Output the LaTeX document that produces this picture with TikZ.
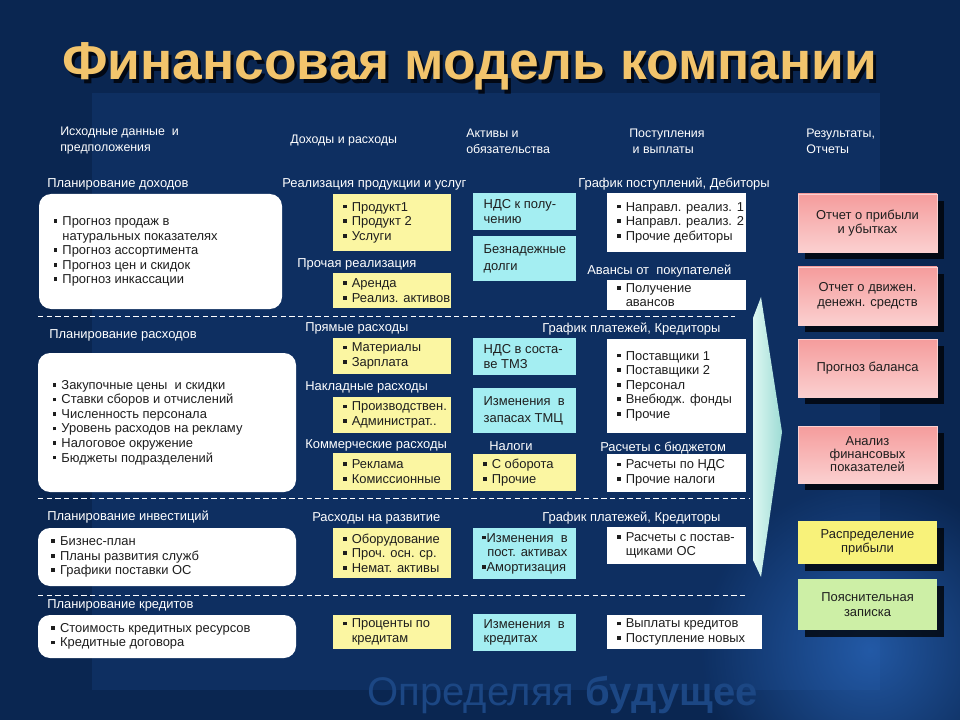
\documentclass[tikz,border=0pt]{standalone}
\usepackage{fontspec}
\setmainfont{Liberation Sans}
\usetikzlibrary{shadows,fadings}
\definecolor{bgdark}{HTML}{0A2651}
\definecolor{bgpanel}{HTML}{0E2F61}
\definecolor{glow}{HTML}{2C6CC4}
\definecolor{yel}{HTML}{FBF6A2}
\definecolor{cya}{HTML}{A4EEF2}
\definecolor{pinktop}{HTML}{F59C9C}
\definecolor{pinkbot}{HTML}{FBD0D0}
\definecolor{gold}{HTML}{F2C46C}
\definecolor{titleshade}{HTML}{020814}
\definecolor{arrowl}{HTML}{DDF7F2}
\definecolor{arrowr}{HTML}{9EDCD5}
\definecolor{ink}{HTML}{1E1E1E}
\definecolor{resyel}{HTML}{F8F27A}
\definecolor{resgrn}{HTML}{CDEFA6}
\definecolor{wmark}{HTML}{1C4784}
\tikzfading[name=glowfade, inner color=transparent!0, outer color=transparent!100]
% small square bullets
\newcommand{\bu}{\rule[0.2em]{0.28em}{0.28em}\hspace{0.4em}}
\newcommand{\bun}{\rule[0.2em]{0.28em}{0.28em}\hspace{0.05em}}
\newcommand{\ind}{\phantom{\bu}}
% title with its shadow set in one box
\newcommand{\shadowed}[1]{\makebox[0pt][l]{\hspace{2.3pt}\raisebox{-2.3pt}{\color{titleshade}#1}}#1}
% box from corner (x1,y1) to (x2,y2) in px, text set from the left
\newcommand{\cell}[8][7.5]{
	\pgfmathsetmacro\cellw{(#6-#4)*0.75}\pgfmathsetmacro\cellh{(#7-#5)*0.75}
	\node[#2, minimum width=\cellw pt, minimum height=\cellh pt, inner sep=0pt] (#3) at ({(#4+#6)/2},{(#5+#7)/2}) {};
	\node[boxtext, anchor=west] (#3t) at ([xshift=#1pt]#3.west) {#8};
}
% result box, text centred
\newcommand{\rbox}[7]{
	\pgfmathsetmacro\cellw{(#5-#3)*0.75}\pgfmathsetmacro\cellh{(#6-#4)*0.75}
	\node[#1, minimum width=\cellw pt, minimum height=\cellh pt] (#2) at ({(#3+#5)/2},{(#4+#6)/2}) {#7};
}
\tikzset{
	boxtext/.style={font=\fontsize{9.7}{10.9}\selectfont, text=ink, inner sep=0pt, align=left},
	plan/.style={fill=white, rounded corners=9pt},
	yelbox/.style={fill=yel},
	cyabox/.style={fill=cya},
	whtbox/.style={fill=white},
	resbox/.style={boxtext, align=center, drop shadow={shadow xshift=5pt, shadow yshift=-5pt, fill=black, opacity=.75}},
	pinkbox/.style={resbox, top color=pinktop, bottom color=pinkbot, draw=pinkbot, line width=.4pt},
	lbl/.style={font=\fontsize{9.7}{11}\selectfont, text=white, anchor=west, inner sep=0pt, text height=1.6ex, text depth=.4ex},
	hdr/.style={font=\fontsize{9.3}{12}\selectfont, text=white, anchor=west, inner sep=0pt, align=left},
	cutline/.style={white, dash pattern=on 4pt off 2.5pt, line width=.6pt}
}
\begin{document}
\begin{tikzpicture}[x=0.75pt, y=-0.75pt]
	\useasboundingbox (0,0) rectangle (960,720);
	% background
	\fill[bgdark] (0,0) rectangle (960,720);
	\fill[bgpanel] (92,93) rectangle (880,690);
	\fill[glow, path fading=glowfade, opacity=.7] (870,650) circle (170);
	\node[anchor=base west, inner sep=0pt, text=wmark, font=\fontsize{30}{36}\selectfont] (wm) at (367,705) {Определяя \textbf{будущее}};
	% title
	\node[anchor=base west, inner sep=0pt, text=gold, font=\fontsize{40}{48}\selectfont\bfseries] (ttl) at (62,80) {\shadowed{Финансовая модель компании}};
	% column heads
	\node[hdr] (h1) at (60,141) {Исходные данные~ и\\предположения};
	\node[hdr] (h2) at (290,141) {Доходы и расходы};
	\node[hdr] (h3) at (466,141) {Активы и\\обязательства};
	\node[hdr] (h4) at (629,141) {Поступления\\\ и выплаты};
	\node[hdr] (h5) at (806,141) {Результаты,\\Отчеты};
	% separators
	\draw[cutline] (38,316) -- (735,316);
	\draw[cutline] (38,498) -- (750,498);
	\draw[cutline] (38,595) -- (745,595);
	% flow arrow
	\shade[left color=arrowl, right color=arrowr] (761,297) -- (782,432) -- (761,577) -- (753,560) -- (753,318) -- cycle;
	% planning
	\node[lbl] (l1) at (47,183) {Планирование доходов};
	\node[lbl] (l2) at (49,334) {Планирование расходов};
	\node[lbl] (l3) at (47,516) {Планирование инвестиций};
	\node[lbl] (l4) at (47,604) {Планирование кредитов};
	\cell[11]{plan}{pd}{39}{194}{282}{309}{\bu Прогноз продаж в\\\ind натуральных показателях\\\bu Прогноз ассортимента\\\bu Прогноз цен и скидок\\\bu Прогноз инкассации}
	\cell[11]{plan}{pr}{38}{353}{296}{492}{\bu Закупочные цены~ и скидки\\\bu Ставки сборов и отчислений\\\bu Численность персонала\\\bu Уровень расходов на рекламу\\\bu Налоговое окружение\\\bu Бюджеты подразделений}
	\cell[10]{plan}{pi}{38}{528}{296}{586}{\bu Бизнес-план\\\bu Планы развития служб\\\bu Графики поставки ОС}
	\cell[10]{plan}{pk}{38}{615}{296}{658}{\bu Стоимость кредитных ресурсов\\\bu Кредитные договора}
	% incomes and costs
	\node[lbl] (l5) at (282,183) {Реализация продукции и услуг};
	\node[lbl] (l6) at (297,263) {Прочая реализация};
	\node[lbl] (l7) at (305,327) {Прямые расходы};
	\node[lbl] (l8) at (305,386) {Накладные расходы};
	\node[lbl] (l9) at (305,444) {Коммерческие расходы};
	\node[lbl] (l10) at (312,517) {Расходы на развитие};
	\cell{yelbox}{y1}{333}{194}{451}{251}{\bu Продукт1\\\bu Продукт 2\\\bu Услуги}
	\cell{yelbox}{y2}{333}{273}{451}{308}{\bu Аренда\\\bu Реализ. активов}
	\cell{yelbox}{y3}{333}{338}{451}{374}{\bu Материалы\\\bu Зарплата}
	\cell{yelbox}{y4}{333}{397}{451}{433}{\bu Производствен.\\\bu Администрат..}
	\cell{yelbox}{y5}{333}{453}{451}{490}{\bu Реклама\\\bu Комиссионные}
	\cell{yelbox}{y6}{333}{528}{451}{578}{\bu Оборудование\\\bu Проч. осн. ср.\\\bu Немат. активы}
	\cell{yelbox}{y7}{333}{615}{451}{649}{\bu Проценты по\\\ind кредитам}
	% assets and liabilities
	\node[lbl] (l11) at (489,446) {Налоги};
	\cell[8]{cyabox}{c1}{473}{193}{576}{230}{НДС к полу-\\чению}
	\cell[8]{cyabox}{c2}{473}{236}{576}{281}{Безнадежные\\[2pt]долги}
	\cell[8]{cyabox}{c3}{473}{338}{576}{375}{НДС в соста-\\ве ТМЗ}
	\cell[8]{cyabox}{c4}{473}{388}{576}{433}{Изменения~ в\\[2pt]запасах ТМЦ}
	\cell{yelbox}{c5}{473}{454}{576}{491}{\bu С оборота\\\bu Прочие}
	\cell[7]{cyabox}{c6}{473}{528}{576}{579}{\bun Изменения~ в\\\hspace{0.38em}пост. активах\\\bun Амортизация}
	\cell[8]{cyabox}{c7}{473}{614}{576}{651}{Изменения~ в\\кредитах}
	% receipts and payments
	\node[lbl] (l12) at (578,183) {График поступлений, Дебиторы};
	\node[lbl] (l13) at (587,270) {Авансы от~ покупателей};
	\node[lbl] (l14) at (542,328) {График платежей, Кредиторы};
	\node[lbl] (l15) at (600,447) {Расчеты с бюджетом};
	\node[lbl] (l16) at (542,517) {График платежей, Кредиторы};
	\cell{whtbox}{w1}{607}{193}{746}{252}{\bu Направл. реализ. 1\\\bu Направл. реализ. 2\\\bu Прочие дебиторы}
	\cell{whtbox}{w2}{607}{280}{746}{310}{\bu Получение\\\ind авансов}
	\cell{whtbox}{w3}{607}{339}{746}{433}{\bu Поставщики 1\\\bu Поставщики 2\\\bu Персонал\\\bu Внебюдж. фонды\\\bu Прочие}
	\cell{whtbox}{w4}{607}{454}{746}{492}{\bu Расчеты по НДС\\\bu Прочие налоги}
	\cell{whtbox}{w5}{607}{527}{746}{564}{\bu Расчеты с постав-\\\ind щиками ОС}
	\cell{whtbox}{w6}{607}{615}{762}{649}{\bu Выплаты кредитов\\\bu Поступление новых}
	% results
	\rbox{pinkbox}{r1}{798}{194}{937}{252}{Отчет о прибыли\\и убытках}
	\rbox{pinkbox}{r2}{798}{267}{937}{325}{Отчет о движен.\\денежн. средств}
	\rbox{pinkbox}{r3}{798}{339}{937}{397}{Прогноз баланса}
	\rbox{pinkbox, font=\fontsize{9.7}{9.8}\selectfont}{r4}{798}{426}{937}{483}{Анализ\\финансовых\\показателей}
	\rbox{resbox, fill=resyel}{r5}{798}{521}{937}{564}{Распределение\\прибыли}
	\rbox{resbox, fill=resgrn}{r6}{798}{579}{937}{630}{Пояснительная\\записка}
\end{tikzpicture}
\end{document}
